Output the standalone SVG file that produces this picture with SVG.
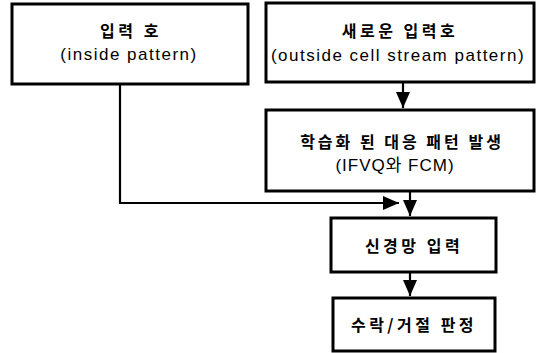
<svg xmlns="http://www.w3.org/2000/svg" width="536" height="353" viewBox="0 0 536 353">
<style>
.box{fill:#fff;stroke:#000;stroke-width:3}
.ko{font-family:"Noto Sans CJK KR","Noto Sans",sans-serif;font-size:16px;font-weight:bold;letter-spacing:3.5px;text-anchor:middle;fill:#000}
.en{font-family:"Liberation Sans","Noto Sans CJK KR",sans-serif;font-size:17px;letter-spacing:1.5px;text-anchor:middle;fill:#000}
.line{fill:none;stroke:#000;stroke-width:2.2}
</style>
<defs>
<marker id="arr" viewBox="0 0 16 14" refX="16" refY="7" markerWidth="16" markerHeight="14" orient="auto" markerUnits="userSpaceOnUse">
<path d="M0,0 L16,7 L0,14 z" fill="#000"/>
</marker>
</defs>
<g id="connectors">
<path class="line" d="M403,82 V108" marker-end="url(#arr)"/>
<path class="line" d="M120,84 V203 H399" marker-end="url(#arr)"/>
<path class="line" d="M410,191 V216" marker-end="url(#arr)"/>
<path class="line" d="M410,272 V296" marker-end="url(#arr)"/>
</g>
<g id="n1">
<rect class="box" x="12" y="4" width="236" height="80"/>
<text class="ko" x="131" y="37">입력 호</text>
<text class="en" x="129" y="60">(inside pattern)</text>
</g>
<g id="n2">
<rect class="box" x="266" y="3" width="268" height="79"/>
<text class="ko" x="400" y="37">새로운 입력호</text>
<text class="en" x="398" y="61">(outside cell stream pattern)</text>
</g>
<g id="n3">
<rect class="box" x="266" y="110" width="268" height="81"/>
<text class="ko" x="402" y="148" style="letter-spacing:3px">학습화 된 대응 패턴 발생</text>
<text class="en" x="395" y="171" style="letter-spacing:1px">(IFVQ와 FCM)</text>
</g>
<g id="n4">
<rect class="box" x="331" y="218" width="165" height="54"/>
<text class="ko" x="414" y="252">신경망 입력</text>
</g>
<g id="n5">
<rect class="box" x="333" y="298" width="162" height="53"/>
<text class="ko" x="414" y="331">수락/거절 판정</text>
</g>
</svg>
